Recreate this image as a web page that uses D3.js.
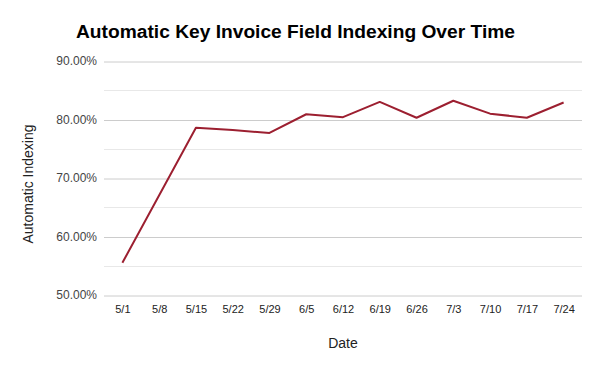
<!DOCTYPE html>
<html>
<head>
<meta charset="utf-8">
<script src="https://cdn.jsdelivr.net/npm/d3@7"></script>
<style>
  body { margin: 0; background: #fff; }
  svg { font-family: "Liberation Sans", Arial, sans-serif; }
</style>
</head>
<body>
<svg id="chart"></svg>
<script>
// data
var dates = ["5/1", "5/8", "5/15", "5/22", "5/29", "6/5", "6/12", "6/19", "6/26", "7/3", "7/10", "7/17", "7/24"];
var indexing = [0.555, null, 0.786, 0.782, 0.777, 0.809, 0.804, 0.830, 0.803, 0.832, 0.810, 0.803, 0.829];
var yTicks = [0.5, 0.6, 0.7, 0.8, 0.9];
var yMinor = [0.55, 0.65, 0.75, 0.85];

var width = 600, height = 371;
var margin = {top: 61, right: 18, bottom: 76, left: 104};

var svg = d3.select("#chart")
    .attr("width", width)
    .attr("height", height);

var x = d3.scalePoint()
    .domain(dates)
    .range([margin.left, width - margin.right])
    .padding(0.5);

var y = d3.scaleLinear()
    .domain([0.5, 0.9])
    .range([height - margin.bottom, margin.top]);

// minor gridlines
svg.append("g").selectAll("line")
    .data(yMinor)
    .enter().append("line")
    .attr("x1", margin.left).attr("x2", width - margin.right)
    .attr("y1", function(d) { return Math.round(y(d)) + 0.5; })
    .attr("y2", function(d) { return Math.round(y(d)) + 0.5; })
    .attr("stroke", "#e8e8e8");

// y axis with major gridlines
var yAxis = svg.append("g")
    .attr("transform", "translate(" + margin.left + ",0)")
    .call(d3.axisLeft(y).tickValues(yTicks)
        .tickFormat(d3.format(".2%"))
        .tickSize(-(width - margin.left - margin.right))
        .tickPadding(7));
yAxis.select(".domain").remove();
yAxis.selectAll("line").attr("stroke", "#cccccc")
    .attr("transform", "translate(0,0.5)");
yAxis.selectAll("text")
    .attr("font-size", 12)
    .attr("fill", "#444")
    .attr("font-family", "Liberation Sans, Arial, sans-serif");

// x axis labels
var xAxis = svg.append("g")
    .attr("transform", "translate(0," + (height - margin.bottom) + ")")
    .call(d3.axisBottom(x).tickSize(0).tickPadding(10));
xAxis.select(".domain").remove();
xAxis.selectAll("text")
    .attr("font-size", 11)
    .attr("fill", "#222")
    .attr("font-family", "Liberation Sans, Arial, sans-serif");

// the line (5/8 has no value, line spans the gap)
var pts = dates.map(function(d, i) { return {date: d, v: indexing[i]}; })
    .filter(function(p) { return p.v !== null; });

var line = d3.line()
    .x(function(d) { return x(d.date); })
    .y(function(d) { return y(d.v); });

svg.append("path")
    .datum(pts)
    .attr("d", line)
    .attr("fill", "none")
    .attr("stroke", "#9c1f30")
    .attr("stroke-width", 2)
    .attr("stroke-linejoin", "round");

// titles
svg.append("text")
    .attr("x", 76).attr("y", 38)
    .attr("font-size", 19.2)
    .attr("font-weight", "bold")
    .attr("fill", "#000")
    .text("Automatic Key Invoice Field Indexing Over Time");

svg.append("text")
    .attr("x", (margin.left + width - margin.right) / 2)
    .attr("y", 348)
    .attr("text-anchor", "middle")
    .attr("font-size", 14)
    .attr("fill", "#222")
    .text("Date");

svg.append("text")
    .attr("transform", "translate(33,184) rotate(-90)")
    .attr("text-anchor", "middle")
    .attr("font-size", 14)
    .attr("fill", "#222")
    .text("Automatic Indexing");
</script>
</body>
</html>
